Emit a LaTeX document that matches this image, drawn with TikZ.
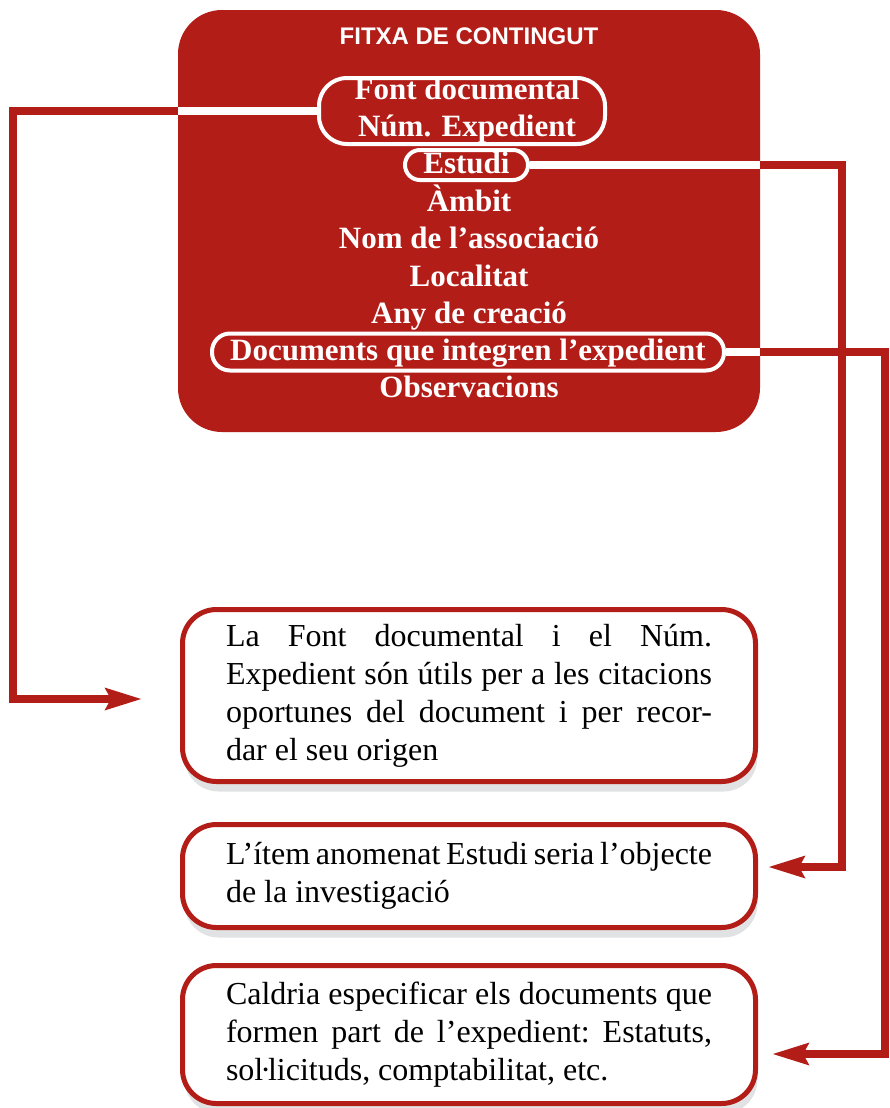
\documentclass[tikz,border=0pt]{standalone}
\usepackage{fontspec}
\setmainfont{Liberation Serif}
\newfontfamily\headfont{Liberation Sans}
\usetikzlibrary{arrows.meta}
\usetikzlibrary{shadows}
\usetikzlibrary{calc}
\definecolor{fitxared}{HTML}{B31D18}
\definecolor{shadegray}{HTML}{E1E2E4}

\tikzset{
  entry/.style = {text=white, font=\fontsize{15.5}{18.5}\selectfont\bfseries, inner sep=0pt},
  oneline/.style = {text height=11pt, text depth=3pt},
  ring/.style = {draw=white, line width=2pt},
  note/.style = {draw=fitxared, line width=2.5pt, fill=white, rounded corners=17pt,
    text width=243pt, align=justify, minimum width=286.5pt, inner sep=0pt,
    font=\fontsize{16}{19}\selectfont\frenchspacing,
    drop shadow={shadow xshift=1pt, shadow yshift=-5pt, fill=shadegray, opacity=1}},
  link/.style = {fitxared, line width=4pt, -{Stealth[length=18pt, width=10.5pt, inset=2.5pt]}},
  inlink/.style = {white, line width=4pt}
}

\begin{document}
\begin{tikzpicture}[x=0.5pt, y=-0.5pt]
            \useasboundingbox (0,0) rectangle (889,1108);
            % fitxa
            \node[fill=fitxared, rounded corners=22pt, minimum width=291pt, minimum height=211pt] (fitxa) at (469,221) {};
            \node[text=white, font=\headfont\bfseries\fontsize{12}{14}\selectfont] (title) at (469,36) {FITXA DE CONTINGUT};
            \node[entry, ring, rounded corners=14pt, minimum width=143pt, minimum height=33pt, align=center] (font) at (462,111) {\hspace*{5pt}Font documental\\\hspace*{5pt}Núm. Expedient};
            \node[entry, oneline, ring, rounded corners=7.5pt, minimum width=61.5pt, minimum height=15pt] (estudi) at (466.5,165) {Estudi};
            \node[entry, oneline] (ambit) at (469,203) {Àmbit};
            \node[entry, oneline] (nom) at (469,240) {Nom de l’associació};
            \node[entry, oneline] (localitat) at (469,278) {Localitat};
            \node[entry, oneline] (any) at (469,315) {Any de creació};
            \node[entry, oneline, ring, rounded corners=9pt, minimum width=256pt, minimum height=18.5pt] (docs) at (468,352) {Documents que integren l’expedient};
            \node[entry, oneline] (obs) at (469,389) {Observacions};

            % notes
            \node[note, minimum height=86pt] (origen) at (469,695.5) {La Font documental i el Núm.\linebreak Expedient són útils per a les citacions\linebreak oportunes del document i per recor-\linebreak dar el seu origen};
            \node[note, minimum height=51.5pt] (objecte) at (469,876) {L’ítem anomenat Estudi seria l’objecte\linebreak de la investigació};
            \node[note, minimum height=69pt] (documents) at (469,1034.5) {Caldria especificar els documents que\linebreak formen part de l’expedient: Estatuts,\linebreak sol\kern-1.5pt·\kern-1.5pt licituds, comptabilitat, etc.};

            % connectors
            \coordinate (lx) at (13,0);
            \coordinate (rxa) at (842,0);
            \coordinate (rxb) at (885,0);
            \coordinate (tipa) at (142,699);
            \coordinate (tipb) at (768,867);
            \coordinate (tipc) at (772,1054);
            \draw[link] (font.west) -- (font.west -| lx) |- (tipa);
            \draw[link] (estudi.east) -- (estudi.east -| rxa) |- (tipb);
            \draw[link] (docs.east) -- (docs.east -| rxb) |- (tipc);
            \draw[inlink] (font.west) -- (font.west -| fitxa.west);
            \draw[inlink] (estudi.east) -- (estudi.east -| fitxa.east);
            \draw[inlink] (docs.east) -- (docs.east -| fitxa.east);

        \end{tikzpicture}
\end{document}
